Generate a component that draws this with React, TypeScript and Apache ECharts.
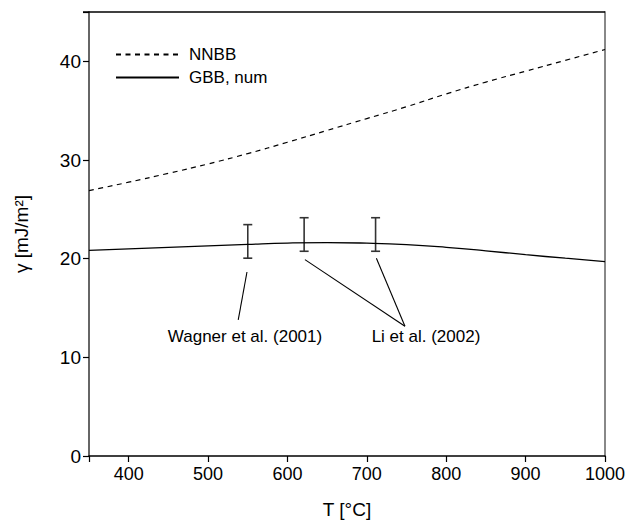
import React, { useEffect, useRef } from "react";
import * as echarts from "echarts";

const temperatures = [350, 400, 450, 500, 550, 600, 650, 700, 750, 800, 850, 900, 950, 1000];
const nnbbValues = [26.9, 27.75, 28.65, 29.6, 30.65, 31.8, 33.0, 34.2, 35.4, 36.7, 37.9, 39.0, 40.1, 41.2];
const gbbValues = [20.85, 21.0, 21.15, 21.3, 21.45, 21.58, 21.63, 21.57, 21.42, 21.15, 20.8, 20.4, 20.05, 19.7];

// [T, low, high]
const errorBars = [
  [550, 20.05, 23.45],
  [621, 20.75, 24.15],
  [711, 20.75, 24.15],
];

// leader lines [from, to] in data coordinates
const leaderLines = [
  [[549, 18.65], [538, 13.8]],
  [[622, 19.9], [748, 13.15]],
  [[712, 20.05], [748, 13.15]],
];

const xTicks = [400, 500, 600, 700, 800, 900, 1000];
const yTicks = [0, 10, 20, 30, 40];
const X_MIN = 350;
const X_MAX = 1000;
const Y_MAX = 45;

const FONT = "'Liberation Sans', Arial, sans-serif";

export default function App() {
  const ref = useRef<HTMLDivElement>(null);

  useEffect(() => {
    if (!ref.current) return;
    const chart = echarts.init(ref.current, undefined, { renderer: "svg" });
    const zip = (ys: number[]) => temperatures.map((t, i) => [t, ys[i]]);

    chart.setOption({
      animation: false,
      backgroundColor: "#fff",
      textStyle: { fontFamily: FONT },
      grid: { left: 89, right: 31, top: 12, bottom: 71, containLabel: false },
      legend: {
        orient: "vertical",
        left: 115,
        top: 46,
        itemWidth: 63,
        itemHeight: 14,
        itemGap: 6,
        padding: 0,
        itemStyle: { opacity: 0, borderWidth: 0 },
        textStyle: { fontSize: 17, color: "#000", fontFamily: FONT, padding: [0, 0, 0, 5] },
        data: ["NNBB", "GBB, num"],
      },
      xAxis: [
        {
          type: "value",
          min: X_MIN,
          max: X_MAX,
          splitNumber: 7,
          name: "T [°C]",
          nameLocation: "middle",
          nameGap: 44,
          nameTextStyle: { fontSize: 19, color: "#000", fontFamily: FONT },
          axisLine: { onZero: false, lineStyle: { color: "#000", width: 1.5 } },
          axisTick: { show: true, inside: false, length: 6, lineStyle: { color: "#000", width: 1.2 } },
          axisLabel: {
            fontSize: 18,
            color: "#000",
            margin: 9,
            fontFamily: FONT,
            formatter: (v: number) => (xTicks.includes(v) ? String(v) : ""),
          },
          splitLine: { show: false },
        },
      ],
      yAxis: [
        {
          type: "value",
          min: 0,
          max: Y_MAX,
          interval: 10,
          name: "γ [mJ/m²]",
          nameLocation: "middle",
          nameGap: 58,
          nameTextStyle: { fontSize: 19, color: "#000", fontFamily: FONT },
          axisLine: { show: true, onZero: false, lineStyle: { color: "#666", width: 2 } },
          axisTick: { show: true, inside: false, length: 6, lineStyle: { color: "#000", width: 1.2 } },
          axisLabel: {
            fontSize: 19,
            color: "#000",
            margin: 8,
            fontFamily: FONT,
            formatter: (v: number) => (yTicks.includes(v) ? String(v) : ""),
          },
          splitLine: { show: false },
        },
        {
          type: "value",
          position: "right",
          min: 0,
          max: Y_MAX,
          axisLine: { show: true, onZero: false, lineStyle: { color: "#888", width: 2 } },
          axisTick: { show: false },
          axisLabel: { show: false },
          splitLine: { show: false },
        },
      ],
      series: [
        {
          name: "NNBB",
          type: "line",
          data: zip(nnbbValues),
          smooth: true,
          symbol: "none",
          lineStyle: { color: "#000", width: 1.2, type: [5, 4.5] },
          itemStyle: { color: "#000" },
        },
        {
          name: "GBB, num",
          type: "line",
          data: zip(gbbValues),
          smooth: true,
          symbol: "none",
          lineStyle: { color: "#000", width: 1.3, type: "solid" },
          itemStyle: { color: "#000" },
          markLine: {
            silent: true,
            symbol: ["none", "none"],
            label: { show: false },
            lineStyle: { color: "#000", width: 1.1, type: "solid" },
            data: leaderLines.map(([a, b]) => [{ coord: a }, { coord: b }]),
          },
        },
        {
          name: "errors",
          type: "custom",
          data: errorBars,
          encode: { x: 0, y: [1, 2] },
          renderItem: (params: any, api: any) => {
            const x = api.value(0);
            const lo = api.coord([x, api.value(1)]);
            const hi = api.coord([x, api.value(2)]);
            const w = 4.5;
            const style = { stroke: "#333", lineWidth: 1.6 };
            return {
              type: "group",
              children: [
                { type: "line", shape: { x1: lo[0], y1: lo[1], x2: hi[0], y2: hi[1] }, style },
                { type: "line", shape: { x1: lo[0] - w, y1: lo[1], x2: lo[0] + w, y2: lo[1] }, style },
                { type: "line", shape: { x1: hi[0] - w, y1: hi[1], x2: hi[0] + w, y2: hi[1] }, style },
              ],
            };
          },
        },
        {
          name: "frame",
          type: "custom",
          data: [[X_MIN, X_MAX, Y_MAX]],
          encode: { x: [0, 1], y: 2 },
          clip: false,
          z: 10,
          renderItem: (params: any, api: any) => {
            const a = api.coord([api.value(0), api.value(2)]);
            const b = api.coord([api.value(1), api.value(2)]);
            return {
              type: "line",
              shape: { x1: a[0] - 6, y1: a[1], x2: b[0], y2: b[1] },
              style: { stroke: "#000", lineWidth: 1.6 },
            };
          },
        },
      ],
      graphic: [
        {
          type: "text",
          x: 245,
          y: 336,
          style: {
            text: "Wagner et al. (2001)",
            fontSize: 17,
            fontFamily: FONT,
            fill: "#000",
            align: "center",
            verticalAlign: "middle",
          },
        },
        {
          type: "text",
          x: 426,
          y: 336,
          style: {
            text: "Li et al. (2002)",
            fontSize: 17,
            fontFamily: FONT,
            fill: "#000",
            align: "center",
            verticalAlign: "middle",
          },
        },
      ],
    });

    return () => chart.dispose();
  }, []);

  return (
    <div
      ref={ref}
      style={{ position: "fixed", left: 0, top: 0, width: 636, height: 527, background: "#fff" }}
    />
  );
}
